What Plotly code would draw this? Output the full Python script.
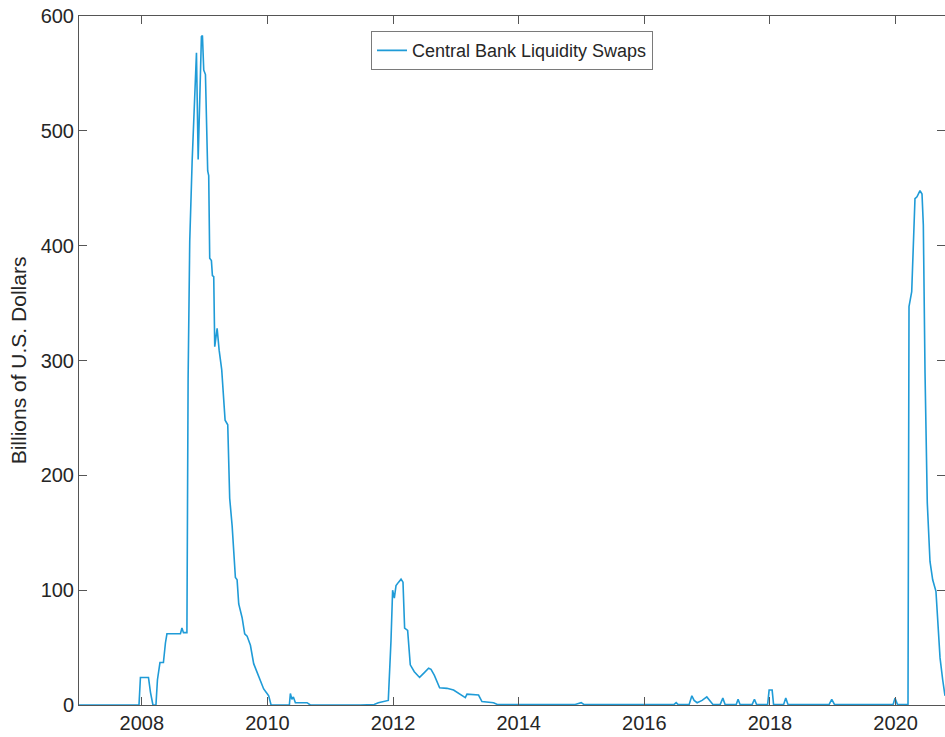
import plotly.graph_objects as go

# Decimal-year positions and values (billions of U.S. dollars)
years = [
    2007.000, 2007.955, 2007.978, 2008.106, 2008.138, 2008.177, 2008.225, 2008.249,
    2008.289, 2008.344, 2008.376, 2008.400, 2008.615, 2008.639, 2008.663, 2008.718,
    2008.737, 2008.763, 2008.801, 2008.843, 2008.870, 2008.897, 2008.949, 2008.965,
    2008.986, 2009.013, 2009.049, 2009.065, 2009.081, 2009.108, 2009.124, 2009.145,
    2009.161, 2009.199, 2009.231, 2009.272, 2009.304, 2009.326, 2009.368, 2009.399,
    2009.438, 2009.474, 2009.490, 2009.517, 2009.543, 2009.597, 2009.638, 2009.676,
    2009.729, 2009.781, 2009.835, 2009.888, 2009.940, 2009.994, 2010.020, 2010.058,
    2010.349, 2010.365, 2010.389, 2010.413, 2010.445, 2010.631, 2010.683, 2011.479,
    2011.700, 2011.765, 2011.924, 2011.967, 2011.993, 2012.020, 2012.047, 2012.088,
    2012.127, 2012.158, 2012.184, 2012.232, 2012.274, 2012.338, 2012.422, 2012.486,
    2012.566, 2012.604, 2012.656, 2012.741, 2012.858, 2012.963, 2013.043, 2013.150,
    2013.177, 2013.361, 2013.415, 2013.600, 2013.659, 2014.900, 2014.995, 2015.043,
    2016.475, 2016.507, 2016.539, 2016.714, 2016.757, 2016.793, 2016.841, 2016.920,
    2016.995, 2017.064, 2017.095, 2017.207, 2017.250, 2017.287, 2017.462, 2017.493,
    2017.525, 2017.716, 2017.753, 2017.788, 2017.963, 2017.987, 2018.035, 2018.058,
    2018.217, 2018.252, 2018.289, 2018.941, 2018.984, 2019.029, 2019.960, 2019.991,
    2020.031, 2020.198, 2020.214, 2020.257, 2020.282, 2020.309, 2020.341, 2020.362,
    2020.389, 2020.421, 2020.442, 2020.469, 2020.505, 2020.548, 2020.591, 2020.643,
    2020.681, 2020.708, 2020.750, 2020.787,
]
swaps = [
    0, 0, 24, 24, 11, 0, 0, 22,
    37, 37, 54, 62, 62, 67, 63, 63,
    284, 404, 473, 533, 568, 475, 582, 583,
    553, 549, 465, 461, 389, 387, 374, 373,
    312, 328, 309, 292, 268, 248, 244, 180,
    156, 116, 111, 109, 88, 76, 62, 60,
    52, 36, 28, 22, 14, 10, 8, 0,
    0, 10, 5, 7, 2, 2, 0, 0,
    0.5, 2, 4, 56, 100, 93, 104, 107,
    109.6, 107, 67, 65, 35, 29, 24, 27.5,
    32, 31, 26, 15, 14.5, 13, 10, 6.4,
    9.5, 8.7, 3, 2, 0.5, 0.5, 2, 0.3,
    0.5, 2, 0.3, 0.5, 8, 4, 2, 4,
    7, 2, 0.3, 0.3, 6, 0.3, 0.3, 5,
    0.3, 0.3, 5, 0.3, 0.3, 13, 13, 0.3,
    0.3, 6, 0.3, 0.3, 5, 0.3, 0.3, 6,
    0.3, 0.3, 347, 360, 402, 441, 442.6, 445.6,
    448, 445, 418, 289, 176, 125, 109, 99,
    70, 41, 22, 8,
]
x_ticks = [2008, 2010, 2012, 2014, 2016, 2018, 2020]
y_ticks = [0, 100, 200, 300, 400, 500, 600]

fig = go.Figure()
fig.add_trace(go.Scatter(
    x=years, y=swaps, mode="lines",
    name="Central Bank Liquidity Swaps",
    line=dict(color="#1f9bd7", width=1.6),
))

fam = "Liberation Sans, Arial, Helvetica, sans-serif"
axis_font = dict(family=fam, size=20, color="#262626")

fig.update_layout(
    width=945, height=737,
    margin=dict(l=79, r=0, t=16, b=32),
    paper_bgcolor="white", plot_bgcolor="white",
    font=axis_font,
    showlegend=True,
    legend=dict(
        x=0.5, y=0.978, xanchor="center", yanchor="top",
        bordercolor="#7a7a7a", borderwidth=1, bgcolor="white",
        font=dict(family=fam, size=18, color="#262626"),
    ),
    xaxis=dict(
        range=[2007.0, 2020.787],
        tickvals=x_ticks, ticktext=[str(t) for t in x_ticks],
        ticks="inside", ticklen=8, tickcolor="#555555", tickwidth=1,
        showline=True, linecolor="#555555", linewidth=1, mirror="ticks",
        showgrid=False, zeroline=False,
        tickfont=axis_font,
    ),
    yaxis=dict(
        range=[0, 600],
        tickvals=y_ticks,
        ticks="inside", ticklen=8, tickcolor="#555555", tickwidth=1,
        showline=True, linecolor="#555555", linewidth=1, mirror="ticks",
        showgrid=False, zeroline=False,
        tickfont=axis_font,
        title=dict(text="Billions of U.S. Dollars", font=dict(family=fam, size=21, color="#262626"), standoff=8),
    ),
)

fig.write_html("out.html")
